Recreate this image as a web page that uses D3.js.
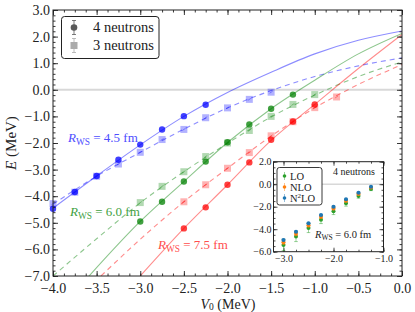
<!DOCTYPE html>
<html>
<head>
<meta charset="utf-8">
<script src="https://cdn.jsdelivr.net/npm/d3@7"></script>
<style>
body { margin: 0; background: #fff; }
</style>
</head>
<body>
<script>
// ---- data ----
// 4 neutrons (circles) and 3 neutrons (squares), V0 in MeV, E in MeV
var blue4V = [-4.0, -3.75, -3.5, -3.25, -3.0, -2.75, -2.5, -2.25];
var blue4E = [-4.47, -3.84, -3.24, -2.63, -2.06, -1.49, -0.99, -0.56];
var blue3V = [-4.0, -3.75, -3.5, -3.25, -3.0, -2.75, -2.5, -2.25, -2.0, -1.75, -1.5];
var blue3E = [-4.28, -3.85, -3.25, -2.79, -2.35, -1.87, -1.49, -1.05, -0.68, -0.36, -0.09];

var green4V = [-3.0, -2.75, -2.5, -2.25, -2.0, -1.75, -1.5, -1.25];
var green4E = [-4.95, -4.21, -3.45, -2.70, -1.97, -1.30, -0.71, -0.18];
var green3V = [-3.0, -2.75, -2.5, -2.25, -2.0, -1.75, -1.5, -1.25, -1.0];
var green3E = [-4.24, -3.63, -3.08, -2.51, -2.0, -1.53, -1.0, -0.55, -0.18];

var red4V = [-2.5, -2.25, -2.0, -1.75, -1.5, -1.25, -1.0];
var red4E = [-5.21, -4.42, -3.57, -2.73, -1.88, -1.19, -0.55];
var red3V = [-2.5, -2.25, -2.0, -1.75, -1.5, -1.25, -1.0, -0.75];
var red3E = [-4.21, -3.57, -2.95, -2.36, -1.73, -1.2, -0.67, -0.27];

// fitted curves (solid = 4n, dashed = 3n)
var blueFitV = [-4.0, -3.5, -3.0, -2.5, -2.0, -1.5, -1.0, -0.5, 0.0];
var blueFit4 = [-4.45, -3.24, -2.07, -1.0, -0.1, 0.66, 1.35, 1.86, 2.21];
var blueFit3 = [-4.3, -3.25, -2.35, -1.48, -0.68, -0.03, 0.5, 0.9, 1.2];
var greenFit4V = [-3.6, -3.0, -2.5, -2.0, -1.5, -1.0, -0.5, 0.0];
var greenFit4 = [-7.05, -4.95, -3.45, -1.98, -0.71, 0.36, 1.35, 2.12];
var greenFit3V = [-4.0, -3.5, -3.0, -2.5, -2.0, -1.5, -1.0, -0.5, 0.0];
var greenFit3 = [-7.0, -5.6, -4.25, -3.08, -2.01, -1.02, -0.2, 0.5, 1.05];
var redFit4V = [-3.0, -2.5, -2.0, -1.5, -1.0, -0.5, 0.0];
var redFit4 = [-7.0, -5.21, -3.57, -1.9, -0.55, 0.8, 2.08];
var redFit3V = [-3.45, -3.0, -2.5, -2.0, -1.5, -1.0, -0.5, 0.0];
var redFit3 = [-7.0, -5.62, -4.21, -2.95, -1.74, -0.68, 0.2, 0.95];

// inset: 4 neutrons, R_WS = 6.0 fm, by order
var insetV = [-3.0, -2.75, -2.5, -2.25, -2.0, -1.75, -1.5, -1.25];
var insetLO = [-5.40, -4.65, -3.90, -3.15, -2.40, -1.70, -1.05, -0.42];
var insetLOerr = [0.5, 0.45, 0.4, 0.35, 0.3, 0.25, 0.2, 0.15];
var insetNLO = [-5.15, -4.40, -3.65, -2.90, -2.15, -1.48, -0.86, -0.30];
var insetNLOerr = [0.2, 0.18, 0.16, 0.14, 0.12, 0.1, 0.08, 0.06];
var insetN2LO = [-4.96, -4.22, -3.48, -2.74, -2.00, -1.34, -0.75, -0.22];
var insetN2LOerr = [0.08, 0.07, 0.07, 0.06, 0.06, 0.05, 0.05, 0.04];

var xTicks = [-4.0, -3.5, -3.0, -2.5, -2.0, -1.5, -1.0, -0.5, 0.0];
var yTicks = [3.0, 2.0, 1.0, 0.0, -1.0, -2.0, -3.0, -4.0, -5.0, -6.0, -7.0];
var insetXTicks = [-3.0, -2.0, -1.0];
var insetYTicks = [2.0, 0.0, -2.0, -4.0, -6.0];

var BLUE = "#0000ff", GREEN = "#008000", RED = "#ff0000";
var FONT = "'Liberation Serif', 'DejaVu Serif', serif";

var svg = d3.select("body").append("svg")
    .attr("width", 415).attr("height", 312)
    .style("font-family", FONT);

var x = d3.scaleLinear().domain([-4, 0]).range([53, 402]);
var y = d3.scaleLinear().domain([-7, 3]).range([276, 10]);
var fmt = d3.format(".1f");

svg.append("clipPath").attr("id", "clip")
    .append("rect").attr("x", 53).attr("y", 10).attr("width", 349).attr("height", 266);

// zero line
svg.append("line")
    .attr("x1", x(-4)).attr("x2", x(0)).attr("y1", y(0)).attr("y2", y(0))
    .attr("stroke", "#d8d8d8").attr("stroke-width", 2);

var plot = svg.append("g").attr("clip-path", "url(#clip)");
var marks = svg.append("g");

function zipPts(vs, es) { return vs.map(function(v, i) { return [v, es[i]]; }); }

var line = d3.line()
    .x(function(d) { return x(d[0]); })
    .y(function(d) { return y(d[1]); })
    .curve(d3.curveMonotoneX);

function fit(vs, es, color, dashed) {
    plot.append("path")
        .attr("d", line(zipPts(vs, es)))
        .attr("fill", "none")
        .attr("stroke", color)
        .attr("stroke-opacity", 0.45)
        .attr("stroke-width", 1.1)
        .attr("stroke-dasharray", dashed ? "5,4" : null);
}

fit(blueFitV, blueFit4, BLUE, false);
fit(blueFitV, blueFit3, BLUE, true);
fit(greenFit4V, greenFit4, GREEN, false);
fit(greenFit3V, greenFit3, GREEN, true);
fit(redFit4V, redFit4, RED, false);
fit(redFit3V, redFit3, RED, true);

function squares(vs, es, color) {
    var g = marks.append("g");
    g.selectAll("rect").data(zipPts(vs, es)).enter().append("rect")
        .attr("x", function(d) { return x(d[0]) - 3.5; })
        .attr("y", function(d) { return y(d[1]) - 3.5; })
        .attr("width", 7).attr("height", 7)
        .attr("fill", color).attr("fill-opacity", 0.3);
    g.selectAll("line").data(zipPts(vs, es)).enter().append("line")
        .attr("x1", function(d) { return x(d[0]) - 1.5; })
        .attr("x2", function(d) { return x(d[0]) + 1.5; })
        .attr("y1", function(d) { return y(d[1]) + 1; })
        .attr("y2", function(d) { return y(d[1]) - 1; })
        .attr("stroke", color).attr("stroke-opacity", 0.45).attr("stroke-width", 0.8);
}
function circles(vs, es, color) {
    marks.append("g").selectAll("circle").data(zipPts(vs, es)).enter().append("circle")
        .attr("cx", function(d) { return x(d[0]); })
        .attr("cy", function(d) { return y(d[1]); })
        .attr("r", 3.2)
        .attr("fill", color).attr("fill-opacity", 0.75);
}

squares(blue3V, blue3E, BLUE);
squares(green3V, green3E, GREEN);
squares(red3V, red3E, RED);
circles(blue4V, blue4E, BLUE);
circles(green4V, green4E, GREEN);
circles(red4V, red4E, RED);

// ---- axes, ticks pointing inward ----
function minorValues(lo, hi, step) {
    var out = [];
    for (var v = lo; v <= hi + 1e-9; v += step) out.push(+v.toFixed(4));
    return out;
}
var xMinor = minorValues(-4, 0, 0.125);
var yMinor = minorValues(-7, 3, 0.2);

function styleAxis(g) {
    g.attr("font-family", null).style("font-family", FONT);
    g.select(".domain").remove();
    g.selectAll("line").attr("stroke", "#222").attr("stroke-width", 0.9);
    g.selectAll("text").attr("font-size", 14).attr("fill", "#222");
}

svg.append("g").attr("transform", "translate(0,276)")
    .call(d3.axisBottom(x).tickValues(xTicks).tickFormat(fmt).tickSize(-5).tickPadding(7))
    .call(styleAxis);
svg.append("g").attr("transform", "translate(0,276)")
    .call(d3.axisBottom(x).tickValues(xMinor).tickFormat("").tickSize(-2.5))
    .call(styleAxis);
svg.append("g").attr("transform", "translate(0,10)")
    .call(d3.axisTop(x).tickValues(xTicks).tickFormat("").tickSize(-5))
    .call(styleAxis);
svg.append("g").attr("transform", "translate(0,10)")
    .call(d3.axisTop(x).tickValues(xMinor).tickFormat("").tickSize(-2.5))
    .call(styleAxis);
svg.append("g").attr("transform", "translate(53,0)")
    .call(d3.axisLeft(y).tickValues(yTicks).tickFormat(fmt).tickSize(-5).tickPadding(3))
    .call(styleAxis);
svg.append("g").attr("transform", "translate(53,0)")
    .call(d3.axisLeft(y).tickValues(yMinor).tickFormat("").tickSize(-2.5))
    .call(styleAxis);
svg.append("g").attr("transform", "translate(402,0)")
    .call(d3.axisRight(y).tickValues(yTicks).tickFormat("").tickSize(-5))
    .call(styleAxis);
svg.append("g").attr("transform", "translate(402,0)")
    .call(d3.axisRight(y).tickValues(yMinor).tickFormat("").tickSize(-2.5))
    .call(styleAxis);

svg.append("rect").attr("x", 53).attr("y", 10).attr("width", 349).attr("height", 266)
    .attr("fill", "none").attr("stroke", "#222").attr("stroke-width", 1);

// axis titles
var yl = svg.append("text").attr("transform", "translate(16,143) rotate(-90)")
    .attr("text-anchor", "middle").attr("font-size", 15).attr("fill", "#222");
yl.append("tspan").attr("font-style", "italic").text("E");
yl.append("tspan").text(" (MeV)");

var xl = svg.append("text").attr("x", 228).attr("y", 308.5)
    .attr("text-anchor", "middle").attr("font-size", 14).attr("fill", "#222");
xl.append("tspan").attr("font-style", "italic").text("V");
xl.append("tspan").attr("font-size", 9.5).attr("dy", 1.2).text("0");
xl.append("tspan").attr("dy", -1.2).text(" (MeV)");

// R_WS labels
function rLabel(px, py, val, color, size) {
    var t = svg.append("text").attr("x", px).attr("y", py).attr("font-size", size)
        .attr("fill", color);
    t.append("tspan").attr("font-style", "italic").text("R");
    t.append("tspan").attr("font-size", size * 0.72).attr("dy", size * 0.22).text("WS");
    t.append("tspan").attr("dy", -size * 0.22).text(" = " + val + " fm");
    return t;
}
rLabel(68, 142, "4.5", "#4d4dff", 13);
rLabel(70, 216, "6.0", "#3f9f3f", 13);
rLabel(158, 249, "7.5", "#ff4d4d", 13);

// legend
svg.append("rect").attr("x", 61.5).attr("y", 16.5).attr("width", 97.5).attr("height", 42)
    .attr("rx", 3).attr("fill", "#fff").attr("stroke", "#222").attr("stroke-width", 1);
var legItems = [
    { label: "4 neutrons", shape: "circle", color: "#5a5a5a", ly: 27.5 },
    { label: "3 neutrons", shape: "square", color: "#ababab", ly: 45.5 }
];
legItems.forEach(function(it) {
    var cx = 74;
    svg.append("line").attr("x1", cx).attr("x2", cx).attr("y1", it.ly - 7).attr("y2", it.ly + 7)
        .attr("stroke", it.color).attr("stroke-width", 0.8);
    svg.append("line").attr("x1", cx - 2).attr("x2", cx + 2).attr("y1", it.ly - 7).attr("y2", it.ly - 7)
        .attr("stroke", it.color).attr("stroke-width", 0.8);
    svg.append("line").attr("x1", cx - 2).attr("x2", cx + 2).attr("y1", it.ly + 7).attr("y2", it.ly + 7)
        .attr("stroke", it.color).attr("stroke-width", 0.8);
    if (it.shape === "circle") {
        svg.append("circle").attr("cx", cx).attr("cy", it.ly).attr("r", 3.3).attr("fill", it.color);
    } else {
        svg.append("rect").attr("x", cx - 3.5).attr("y", it.ly - 3.5).attr("width", 7).attr("height", 7)
            .attr("fill", it.color);
    }
    svg.append("text").attr("x", 93).attr("y", it.ly + 4.5).attr("font-size", 14.5)
        .attr("fill", "#222").text(it.label);
});

// ---- inset ----
var ix = d3.scaleLinear().domain([-3.2, -1.0]).range([273.5, 383.5]);
var iy = d3.scaleLinear().domain([-6, 2]).range([251.7, 161.7]);

svg.append("rect").attr("x", 273.5).attr("y", 161.7).attr("width", 110).attr("height", 90)
    .attr("fill", "#fff");
svg.append("line").attr("x1", ix(-3.2)).attr("x2", ix(-1.0)).attr("y1", iy(0)).attr("y2", iy(0))
    .attr("stroke", "#d8d8d8").attr("stroke-width", 1.5);

function styleInset(g) {
    g.attr("font-family", null).style("font-family", FONT);
    g.select(".domain").remove();
    g.selectAll("line").attr("stroke", "#222").attr("stroke-width", 0.8);
    g.selectAll("text").attr("font-size", 10).attr("fill", "#222");
}
var ixMinor = minorValues(-3.0, -1.0, 0.25);
var iyMinor = minorValues(-6, 2, 0.5);

svg.append("g").attr("transform", "translate(0,251.7)")
    .call(d3.axisBottom(ix).tickValues(insetXTicks).tickFormat(fmt).tickSize(-4).tickPadding(3))
    .call(styleInset);
svg.append("g").attr("transform", "translate(0,251.7)")
    .call(d3.axisBottom(ix).tickValues(ixMinor).tickFormat("").tickSize(-2))
    .call(styleInset);
svg.append("g").attr("transform", "translate(0,161.7)")
    .call(d3.axisTop(ix).tickValues(insetXTicks).tickFormat("").tickSize(-4))
    .call(styleInset);
svg.append("g").attr("transform", "translate(0,161.7)")
    .call(d3.axisTop(ix).tickValues(ixMinor).tickFormat("").tickSize(-2))
    .call(styleInset);
svg.append("g").attr("transform", "translate(273.5,0)")
    .call(d3.axisLeft(iy).tickValues(insetYTicks).tickFormat(fmt).tickSize(-4).tickPadding(2))
    .call(styleInset);
svg.append("g").attr("transform", "translate(273.5,0)")
    .call(d3.axisLeft(iy).tickValues(iyMinor).tickFormat("").tickSize(-2))
    .call(styleInset);
svg.append("g").attr("transform", "translate(383.5,0)")
    .call(d3.axisRight(iy).tickValues(insetYTicks).tickFormat("").tickSize(-4))
    .call(styleInset);
svg.append("g").attr("transform", "translate(383.5,0)")
    .call(d3.axisRight(iy).tickValues(iyMinor).tickFormat("").tickSize(-2))
    .call(styleInset);

var orders = [
    { name: "LO", vals: insetLO, errs: insetLOerr, color: "#2ca02c" },
    { name: "NLO", vals: insetNLO, errs: insetNLOerr, color: "#ff7f0e" },
    { name: "N2LO", vals: insetN2LO, errs: insetN2LOerr, color: "#1f77b4" }
];
var ig = svg.append("g");
orders.forEach(function(o) {
    var pts = insetV.map(function(v, i) { return { v: v, e: o.vals[i], s: o.errs[i] }; });
    var g = ig.append("g");
    g.selectAll(".eb").data(pts).enter().append("line")
        .attr("x1", function(d) { return ix(d.v); }).attr("x2", function(d) { return ix(d.v); })
        .attr("y1", function(d) { return iy(d.e - d.s); }).attr("y2", function(d) { return iy(d.e + d.s); })
        .attr("stroke", o.color).attr("stroke-opacity", 0.6).attr("stroke-width", 0.8);
    [-1, 1].forEach(function(sgn) {
        g.selectAll(".cap" + sgn).data(pts).enter().append("line")
            .attr("x1", function(d) { return ix(d.v) - 1.8; }).attr("x2", function(d) { return ix(d.v) + 1.8; })
            .attr("y1", function(d) { return iy(d.e + sgn * d.s); }).attr("y2", function(d) { return iy(d.e + sgn * d.s); })
            .attr("stroke", o.color).attr("stroke-opacity", 0.6).attr("stroke-width", 0.8);
    });
    g.selectAll("circle").data(pts).enter().append("circle")
        .attr("cx", function(d) { return ix(d.v); }).attr("cy", function(d) { return iy(d.e); })
        .attr("r", 2).attr("fill", o.color);
});

svg.append("rect").attr("x", 273.5).attr("y", 161.7).attr("width", 110).attr("height", 90)
    .attr("fill", "none").attr("stroke", "#222").attr("stroke-width", 1);

// inset legend
svg.append("rect").attr("x", 277).attr("y", 167.5).attr("width", 45).attr("height", 37.5)
    .attr("rx", 2.5).attr("fill", "#fff").attr("stroke", "#222").attr("stroke-width", 0.9);
orders.forEach(function(o, i) {
    var ly = 176 + i * 11, cx = 284.5;
    svg.append("line").attr("x1", cx).attr("x2", cx).attr("y1", ly - 4).attr("y2", ly + 4)
        .attr("stroke", o.color).attr("stroke-opacity", 0.6).attr("stroke-width", 0.8);
    svg.append("circle").attr("cx", cx).attr("cy", ly).attr("r", 1.8).attr("fill", o.color);
    var t = svg.append("text").attr("x", 290).attr("y", ly + 3.5).attr("font-size", 10.5).attr("fill", "#222");
    if (o.name === "N2LO") {
        t.append("tspan").text("N");
        t.append("tspan").attr("font-size", 7).attr("dy", -4).text("2");
        t.append("tspan").attr("dy", 4).text("LO");
    } else {
        t.text(o.name);
    }
});

svg.append("text").attr("x", 333).attr("y", 174.5).attr("font-size", 10).attr("fill", "#222").text("4 neutrons");
var il = svg.append("text").attr("x", 315).attr("y", 238).attr("font-size", 10.5).attr("fill", "#222");
il.append("tspan").attr("font-style", "italic").text("R");
il.append("tspan").attr("font-size", 7.5).attr("dy", 2).text("WS");
il.append("tspan").attr("dy", -2).text(" = 6.0 fm");
</script>
</body>
</html>
